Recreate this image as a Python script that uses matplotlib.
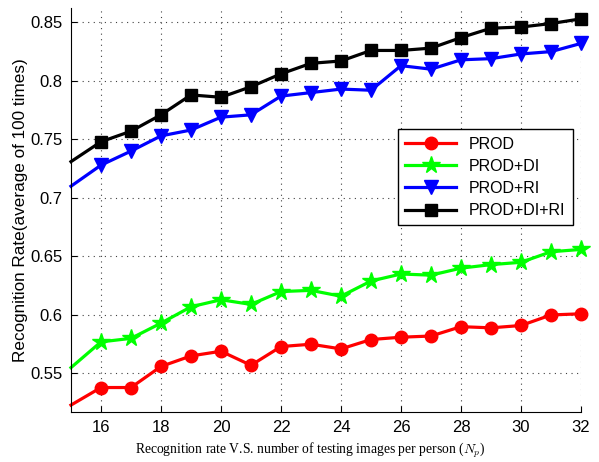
import matplotlib
matplotlib.use("Agg")
import matplotlib.pyplot as plt
import numpy as np

# number of testing images per person
n_p = [15, 16, 17, 18, 19, 20, 21, 22, 23, 24, 25, 26, 27, 28, 29, 30, 31, 32]

# recognition rates
prod = [0.523, 0.538, 0.538, 0.556, 0.565, 0.569, 0.557, 0.573, 0.575, 0.571,
        0.579, 0.581, 0.582, 0.590, 0.589, 0.591, 0.600, 0.601]
prod_di = [0.555, 0.577, 0.580, 0.593, 0.607, 0.613, 0.609, 0.620, 0.621, 0.616,
           0.629, 0.635, 0.634, 0.640, 0.643, 0.645, 0.654, 0.656]
prod_ri = [0.710, 0.728, 0.740, 0.753, 0.758, 0.769, 0.771, 0.787, 0.790, 0.793,
           0.792, 0.813, 0.810, 0.818, 0.819, 0.823, 0.825, 0.832]
prod_di_ri = [0.731, 0.748, 0.757, 0.771, 0.788, 0.786, 0.795, 0.806, 0.815, 0.817,
              0.826, 0.826, 0.828, 0.837, 0.845, 0.846, 0.849, 0.853]

labels = ['PROD', 'PROD+DI', 'PROD+RI', 'PROD+DI+RI']

plt.rcParams['mathtext.fontset'] = 'cm'

fig = plt.figure(figsize=(5.99, 4.62), dpi=100)
ax = fig.add_axes([0.1185, 0.108, 0.8515, 0.874])

sans = ['Liberation Sans', 'DejaVu Sans']
skip = slice(1, None)  # the first point sits on the axis edge, no marker there

ax.plot(n_p, prod, '-', color='#ff0000', lw=2.3, marker='o', ms=9, markevery=skip, label=labels[0], clip_on=False)
ax.plot(n_p, prod_di, '-', color='#00ff00', lw=2.3, marker='*', ms=13, markevery=skip, label=labels[1], clip_on=False)
ax.plot(n_p, prod_ri, '-', color='#0000ff', lw=2.3, marker='v', ms=10, markevery=skip, label=labels[2], clip_on=False)
ax.plot(n_p, prod_di_ri, '-', color='#000000', lw=2.3, marker='s', ms=8.5, markevery=skip, label=labels[3], clip_on=False)

ax.set_xlim(15, 32)
ax.set_ylim(0.517, 0.862)
ax.set_xticks(np.arange(16, 33, 2))
ax.set_yticks([0.55, 0.6, 0.65, 0.7, 0.75, 0.8, 0.85])
ax.set_yticklabels(['0.55', '0.6', '0.65', '0.7', '0.75', '0.8', '0.85'])

ax.spines['top'].set_visible(False)
ax.spines['right'].set_visible(False)
ax.tick_params(direction='in', length=4, width=0.8, labelsize=12, pad=6)
for t in ax.get_xticklabels() + ax.get_yticklabels():
    t.set_family(sans)

ax.grid(True, linestyle=(0, (1, 4)), color='0.25', linewidth=0.8)
ax.set_axisbelow(True)

ax.set_xlabel(r'Recognition rate V.S. number of testing images per person ($N_p$)',
              family=['Liberation Serif', 'DejaVu Serif'], fontsize=9.8, va='center')
ax.xaxis.set_label_coords(0.47, -0.095)
ax.set_ylabel('Recognition Rate(average of 100 times)', family=sans, fontsize=12.3, labelpad=2)

leg = ax.legend(loc='upper left', bbox_to_anchor=(0.641, 0.700), borderaxespad=0,
                prop={'family': sans, 'size': 11.5},
                fancybox=False, framealpha=1, edgecolor='black', borderpad=0.45,
                handlelength=3.2, labelspacing=0.45)
leg.get_frame().set_linewidth(1.0)

fig.savefig('out.png', dpi=100)
